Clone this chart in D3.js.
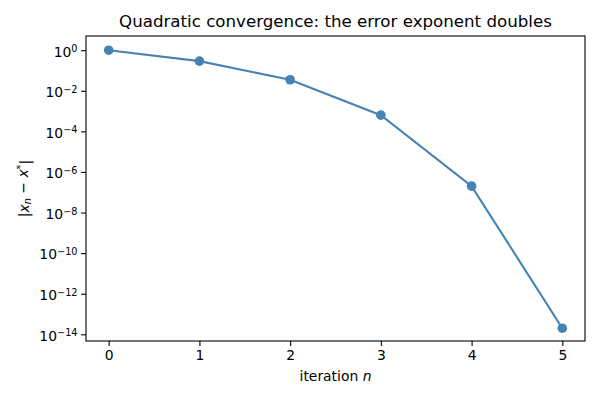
<!DOCTYPE html>
<html>
<head>
<meta charset="utf-8">
<script src="https://cdn.jsdelivr.net/npm/d3@7"></script>
<style>
  body { margin: 0; background: #fff; }
  svg text { font-family: "DejaVu Sans", sans-serif; fill: #000; }
</style>
</head>
<body>
<script>
// values
const iterations = [0, 1, 2, 3, 4, 5];
const errors = [1.0, 0.29, 0.035, 6.3e-4, 2.0e-7, 2.0e-14];
const yTickExponents = [0, -2, -4, -6, -8, -10, -12, -14];

const W = 600, H = 400;
const margin = { left: 86, right: 15, top: 36, bottom: 59 };
const color = "#4682b4";

const svg = d3.select("body").append("svg")
  .attr("width", W)
  .attr("height", H);

const x = d3.scaleLinear()
  .domain([-0.25, 5.25])
  .range([margin.left, W - margin.right]);

const y = d3.scaleLog()
  .domain([Math.pow(10, -14.33), Math.pow(10, 0.70)])
  .range([H - margin.bottom, margin.top]);

// x axis
const xAxis = svg.append("g")
  .attr("transform", "translate(0," + (H - margin.bottom) + ")")
  .call(d3.axisBottom(x).tickValues(iterations).tickFormat(d3.format("d")).tickSize(4.9).tickPadding(4.5));
xAxis.select(".domain").remove();
xAxis.selectAll("text").style("font-size", "13.9px");
xAxis.selectAll("line").attr("stroke-width", 1.1);

// y axis with superscript labels
const yAxis = svg.append("g")
  .attr("transform", "translate(" + margin.left + ",0)")
  .call(d3.axisLeft(y).tickValues(yTickExponents.map(e => Math.pow(10, e))).tickFormat("").tickSize(4.9));
yAxis.select(".domain").remove();
yAxis.selectAll("line").attr("stroke-width", 1.1);

yAxis.selectAll(".tick").each(function(d, i) {
  const t = d3.select(this).append("text")
    .attr("x", -8.5)
    .attr("dy", "0.42em")
    .attr("text-anchor", "end")
    .style("font-size", "13.9px");
  t.append("tspan").text("10");
  t.append("tspan")
    .attr("dy", "-0.45em")
    .style("font-size", "9.7px")
    .text(yTickExponents[i] === 0 ? "0" : "\u2212" + (-yTickExponents[i]));
});

// frame
svg.append("rect")
  .attr("x", margin.left)
  .attr("y", margin.top)
  .attr("width", W - margin.left - margin.right)
  .attr("height", H - margin.top - margin.bottom)
  .attr("fill", "none")
  .attr("stroke", "#000")
  .attr("stroke-width", 1.1);

// line + markers
const line = d3.line()
  .x((d, i) => x(iterations[i]))
  .y(d => y(d));

svg.append("path")
  .datum(errors)
  .attr("d", line)
  .attr("fill", "none")
  .attr("stroke", color)
  .attr("stroke-width", 2.1);

svg.selectAll("circle.pt")
  .data(errors)
  .enter().append("circle")
  .attr("class", "pt")
  .attr("cx", (d, i) => x(iterations[i]))
  .attr("cy", d => y(d))
  .attr("r", 4.8)
  .attr("fill", color);

// title
svg.append("text")
  .attr("x", (margin.left + W - margin.right) / 2)
  .attr("y", 27)
  .attr("text-anchor", "middle")
  .style("font-size", "16.67px")
  .text("Quadratic convergence: the error exponent doubles");

// x label
const xl = svg.append("text")
  .attr("x", (margin.left + W - margin.right) / 2)
  .attr("y", 381)
  .attr("text-anchor", "middle")
  .style("font-size", "13.9px");
xl.append("tspan").text("iteration ");
xl.append("tspan").style("font-style", "italic").text("n");

// y label |x_n − x*|
const yl = svg.append("text")
  .attr("transform", "translate(29," + ((margin.top + H - margin.bottom) / 2) + ") rotate(-90)")
  .attr("text-anchor", "middle")
  .style("font-size", "13.9px");
yl.append("tspan").text("|");
yl.append("tspan").style("font-style", "italic").text("x");
yl.append("tspan").attr("dy", "0.25em").style("font-size", "9.7px").style("font-style", "italic").text("n");
yl.append("tspan").attr("dy", "-0.25em").text(" \u2212 ");
yl.append("tspan").style("font-style", "italic").text("x");
yl.append("tspan").attr("dy", "-0.45em").style("font-size", "9.7px").text("*");
yl.append("tspan").attr("dy", "0.45em").text("|");
</script>
</body>
</html>
